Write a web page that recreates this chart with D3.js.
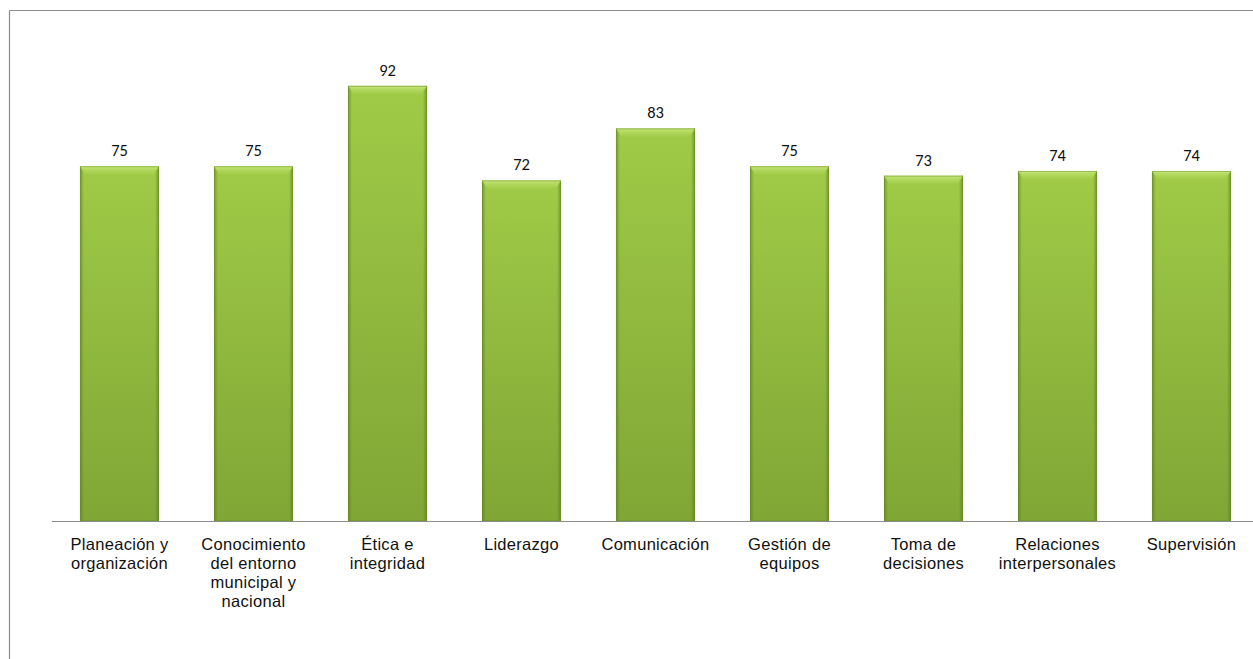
<!DOCTYPE html>
<html>
<head>
<meta charset="utf-8">
<script src="https://cdn.jsdelivr.net/npm/d3@7"></script>
<style>
  html, body { margin: 0; padding: 0; background: #fff; }
  svg { display: block; }
</style>
</head>
<body>
<svg id="chart" width="1253" height="659"></svg>
<script>
// Competency scores
const categories = [
  "Planeación y organización",
  "Conocimiento del entorno municipal y nacional",
  "Ética e integridad",
  "Liderazgo",
  "Comunicación",
  "Gestión de equipos",
  "Toma de decisiones",
  "Relaciones interpersonales",
  "Supervisión"
];
const categoryLines = [
  ["Planeación y", "organización"],
  ["Conocimiento", "del entorno", "municipal y", "nacional"],
  ["Ética e", "integridad"],
  ["Liderazgo"],
  ["Comunicación"],
  ["Gestión de", "equipos"],
  ["Toma de", "decisiones"],
  ["Relaciones", "interpersonales"],
  ["Supervisión"]
];
const values = [75, 75, 92, 72, 83, 75, 73, 74, 74];

const W = 1253, H = 659;
const svg = d3.select("#chart");

const defs = svg.append("defs");
// vertical body shading
const gv = defs.append("linearGradient").attr("id", "barBody").attr("x1", 0).attr("y1", 0).attr("x2", 0).attr("y2", 1);
gv.append("stop").attr("offset", "0%").attr("stop-color", "#9fcb47");
gv.append("stop").attr("offset", "100%").attr("stop-color", "#80a635");
// side shading for the bevel edges
const gh = defs.append("linearGradient").attr("id", "barSides").attr("x1", 0).attr("y1", 0).attr("x2", 1).attr("y2", 0);
gh.append("stop").attr("offset", "0%").attr("stop-color", "#4f6e1c").attr("stop-opacity", 0.55);
gh.append("stop").attr("offset", "5%").attr("stop-color", "#4f6e1c").attr("stop-opacity", 0.0);
gh.append("stop").attr("offset", "95%").attr("stop-color", "#4f6e1c").attr("stop-opacity", 0.0);
gh.append("stop").attr("offset", "100%").attr("stop-color", "#4f6e1c").attr("stop-opacity", 0.6);
// top highlight
const gt = defs.append("linearGradient").attr("id", "barTop").attr("x1", 0).attr("y1", 0).attr("x2", 0).attr("y2", 1);
gt.append("stop").attr("offset", "0%").attr("stop-color", "#c8e77c").attr("stop-opacity", 1);
gt.append("stop").attr("offset", "100%").attr("stop-color", "#b0d85a").attr("stop-opacity", 0.25);

// frame (left and top lines)
svg.append("line").attr("x1", 9.5).attr("x2", W).attr("y1", 10.5).attr("y2", 10.5)
  .attr("stroke", "#8c8c8c").attr("stroke-width", 1.2);
svg.append("line").attr("x1", 9.5).attr("x2", 9.5).attr("y1", 10.5).attr("y2", H)
  .attr("stroke", "#8c8c8c").attr("stroke-width", 1.2);

const x = d3.scaleBand().domain(categories).range([52.5, 1258.5]).paddingInner(0.41).paddingOuter(0.205);
const y = d3.scaleLinear().domain([0, 100]).range([521, 48]);

const bars = svg.append("g").selectAll("g").data(categories).join("g")
  .attr("transform", d => `translate(${x(d)},0)`);

const bw = x.bandwidth();
bars.append("rect")
  .attr("x", 0).attr("width", bw)
  .attr("y", (d, i) => y(values[i])).attr("height", (d, i) => y(0) - y(values[i]))
  .attr("fill", "url(#barBody)");
bars.append("rect")
  .attr("x", 0).attr("width", bw)
  .attr("y", (d, i) => y(values[i])).attr("height", (d, i) => y(0) - y(values[i]))
  .attr("fill", "url(#barSides)");
// beveled top face
bars.append("path")
  .attr("d", (d, i) => {
    const t = y(values[i]);
    return `M0,${t} L${bw},${t} L${bw - 5},${t + 8} L5,${t + 8} Z`;
  })
  .attr("fill", "url(#barTop)");
// thin dark outline
bars.append("rect")
  .attr("x", 0.5).attr("width", bw - 1)
  .attr("y", (d, i) => y(values[i]) + 0.5).attr("height", (d, i) => y(0) - y(values[i]) - 1)
  .attr("fill", "none").attr("stroke", "#6f8f2c").attr("stroke-opacity", 0.5);

// value labels
bars.append("text")
  .attr("x", bw / 2)
  .attr("y", (d, i) => y(values[i]) - 10)
  .attr("text-anchor", "middle")
  .attr("font-family", "Carlito, 'Open Sans', 'Liberation Sans', sans-serif")
  .attr("font-size", 16.5)
  .attr("fill", "#111")
  .text((d, i) => values[i]);

// category axis
const xAxis = d3.axisBottom(x).tickSize(0).tickFormat("");
const ax = svg.append("g").attr("transform", `translate(0,${y(0)})`).call(xAxis);
ax.select(".domain").attr("stroke", "#8c8c8c").attr("stroke-width", 1.2).attr("d", `M52,0.5H${W}`);

const lbl = svg.append("g").selectAll("text").data(categories).join("text")
  .attr("x", d => x(d) + bw / 2)
  .attr("text-anchor", "middle")
  .attr("font-family", "'Liberation Sans', Arial, sans-serif")
  .attr("font-size", 16.5)
  .attr("letter-spacing", 0.3)
  .attr("fill", "#111");
lbl.each(function(d, i) {
  const t = d3.select(this);
  categoryLines[i].forEach((line, k) => {
    t.append("tspan").attr("x", x(d) + bw / 2).attr("y", 550 + k * 19).text(line);
  });
});
</script>
</body>
</html>
